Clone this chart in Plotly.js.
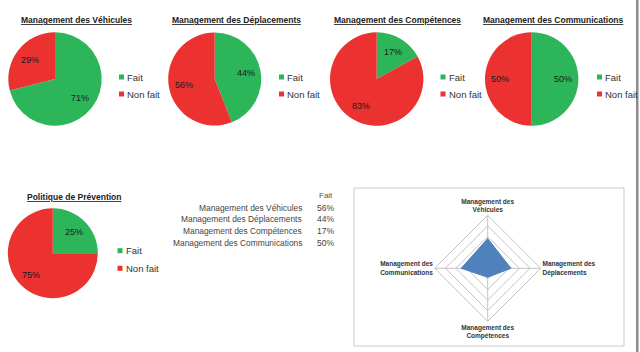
<!DOCTYPE html>
<html>
<head>
<meta charset="utf-8">
<script src="https://cdn.plot.ly/plotly-3.0.1.min.js"></script>
<style>html,body{margin:0;padding:0;background:#fff;}#chart{width:640px;height:352px;}</style>
</head>
<body>
<div id="chart"></div>
<script>
// ---- data ----
const pieTitles = ['Management des Véhicules', 'Management des Déplacements', 'Management des Compétences', 'Management des Communications', 'Politique de Prévention'];
const sliceLabels = ['Fait', 'Non fait'];
const faitValues = [71, 44, 17, 50, 25];
const nonFaitValues = [29, 56, 83, 50, 75];
const tableHeader = 'Fait';
const tableRows = ['Management des Véhicules', 'Management des Déplacements', 'Management des Compétences', 'Management des Communications'];
const tableValues = [56, 44, 17, 50];
const radarCategories = ['Management des<br>Véhicules', 'Management des<br>Déplacements', 'Management des<br>Compétences', 'Management des<br>Communications'];
const radarValues = [56, 44, 17, 50];

// ---- layout config ----
const W = 640, H = 352;
const X = p => p / W;
const Y = p => 1 - p / H;
const GREEN = '#2db55a', RED = '#ec3131', BLUE = '#4f81bd';
const FONT = 'Liberation Sans, Arial, sans-serif';
const LABEL_R = 0.68; // data label radial position (fraction of radius)
const pieGeo = [
  {cx: 55, cy: 79, r: 46.7, tx: 76, ty: 20, lx: 119, ly: [77, 94]},
  {cx: 214.7, cy: 79, r: 46.5, tx: 236.7, ty: 20, lx: 279, ly: [77, 94]},
  {cx: 376.7, cy: 79, r: 46.7, tx: 397.5, ty: 20, lx: 440.5, ly: [77, 94]},
  {cx: 531.7, cy: 79, r: 46.7, tx: 553, ty: 20, lx: 597, ly: [77, 94]},
  {cx: 52.8, cy: 253.3, r: 45, tx: 73.7, ty: 197, lx: 117.5, ly: [250.7, 268.3]}
];

const data = [];
const annotations = [];
const shapes = [];

pieGeo.forEach((g, i) => {
  const vals = [faitValues[i], nonFaitValues[i]];
  data.push({
    type: 'pie',
    labels: sliceLabels,
    values: vals,
    sort: false,
    direction: 'clockwise',
    rotation: 0,
    marker: {colors: [GREEN, RED], line: {width: 0}},
    textinfo: 'none',
    hoverinfo: 'none',
    showlegend: false,
    domain: {x: [X(g.cx - g.r), X(g.cx + g.r)], y: [Y(g.cy + g.r), Y(g.cy - g.r)]}
  });
  // data labels along slice bisector
  const tot = vals.reduce((a, b) => a + b, 0);
  let start = 0;
  vals.forEach(v => {
    const mid = (start + v / 2) / tot * 2 * Math.PI;
    start += v;
    const px = g.cx + Math.sin(mid) * g.r * LABEL_R;
    const py = g.cy - Math.cos(mid) * g.r * LABEL_R;
    annotations.push({xref: 'paper', yref: 'paper', x: X(px), y: Y(py), xanchor: 'center', yanchor: 'middle',
      text: v + '%', showarrow: false, font: {family: FONT, size: 9, color: '#1a1a1a'}});
  });
  annotations.push({
    xref: 'paper', yref: 'paper', x: X(g.tx), y: Y(g.ty), xanchor: 'center', yanchor: 'middle',
    text: '<b><u>' + pieTitles[i] + '</u></b>', showarrow: false,
    font: {family: FONT, size: 8.5, color: '#222'}
  });
  sliceLabels.forEach((lab, k) => {
    const c = k === 0 ? GREEN : RED;
    shapes.push({type: 'rect', xref: 'paper', yref: 'paper',
      x0: X(g.lx), x1: X(g.lx + 5), y0: Y(g.ly[k] + 2.5), y1: Y(g.ly[k] - 2.5),
      fillcolor: c, line: {width: 0}});
    annotations.push({
      xref: 'paper', yref: 'paper', x: X(g.lx + 6), y: Y(g.ly[k]), xanchor: 'left', yanchor: 'middle',
      text: lab, showarrow: false, font: {family: FONT, size: 9.5, color: '#333'}
    });
  });
});

// table
annotations.push({xref: 'paper', yref: 'paper', x: X(325.5), y: Y(195), xanchor: 'center', yanchor: 'middle',
  text: tableHeader, showarrow: false, font: {family: FONT, size: 8, color: '#555'}});
const rowY = [207.7, 219.3, 231, 242.5];
tableRows.forEach((r, i) => {
  annotations.push({xref: 'paper', yref: 'paper', x: X(303.5), y: Y(rowY[i]), xanchor: 'right', yanchor: 'middle',
    text: r, showarrow: false, font: {family: FONT, size: 8.4, color: '#444'}});
  annotations.push({xref: 'paper', yref: 'paper', x: X(325.5), y: Y(rowY[i]), xanchor: 'center', yanchor: 'middle',
    text: tableValues[i] + '%', showarrow: false, font: {family: FONT, size: 8.5, color: '#444'}});
});

// radar
const rc = {cx: 487.7, cy: 268.3, r: 53};
data.push({
  type: 'scatterpolar',
  r: radarValues.concat([radarValues[0]]),
  theta: radarCategories.concat([radarCategories[0]]),
  mode: 'lines',
  fill: 'toself',
  fillcolor: BLUE,
  line: {color: BLUE, width: 1},
  hoverinfo: 'none',
  showlegend: false,
  subplot: 'polar'
});

shapes.push({type: 'rect', xref: 'paper', yref: 'paper', x0: X(354), x1: X(624), y0: Y(346), y1: Y(188),
  line: {color: '#c9c9c9', width: 1}, fillcolor: 'rgba(0,0,0,0)', layer: 'below'});
shapes.push({type: 'rect', xref: 'paper', yref: 'paper', x0: X(636), x1: X(638.5), y0: 0, y1: 1,
  line: {width: 0}, fillcolor: '#8c8c8c'});

const layout = {
  width: W, height: H,
  margin: {l: 0, r: 0, t: 0, b: 0},
  paper_bgcolor: '#fff',
  showlegend: false,
  polar: {
    domain: {x: [X(rc.cx - rc.r), X(rc.cx + rc.r)], y: [Y(rc.cy + rc.r), Y(rc.cy - rc.r)]},
    gridshape: 'linear',
    bgcolor: 'rgba(0,0,0,0)',
    radialaxis: {range: [0, 100], dtick: 20, showticklabels: false, ticks: '', showline: false,
      gridcolor: '#c4c4c4', gridwidth: 1},
    angularaxis: {type: 'category', categoryarray: radarCategories, direction: 'clockwise', rotation: 90,
      showline: true, linecolor: '#c4c4c4', linewidth: 1, gridcolor: '#c4c4c4', ticks: '',
      tickfont: {family: FONT, size: 6.5, color: '#333', weight: 'bold'}}
  },
  annotations: annotations,
  shapes: shapes
};

Plotly.newPlot('chart', data, layout, {staticPlot: true, displayModeBar: false});
</script>
</body>
</html>
